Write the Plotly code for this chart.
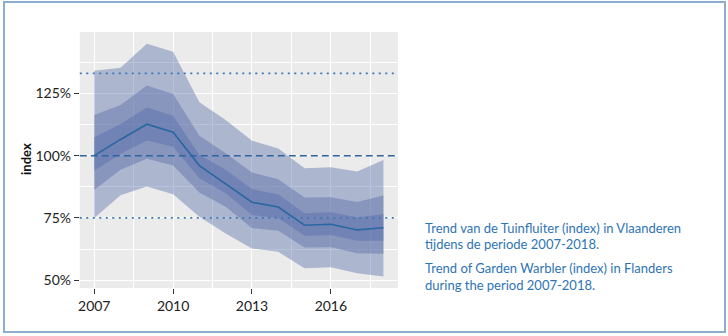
import plotly.graph_objects as go

years = [2007, 2008, 2009, 2010, 2011, 2012, 2013, 2014, 2015, 2016, 2017, 2018]
index_mid = [100.0, 106.5, 112.6, 109.4, 96.0, 88.5, 81.3, 79.4, 72.1, 72.5, 70.2, 71.1]
outer_hi = [134.1, 135.3, 144.9, 141.7, 121.4, 114.3, 106.0, 102.9, 94.9, 95.3, 93.6, 98.3]
outer_lo = [75.0, 84.1, 87.6, 84.5, 75.5, 68.8, 62.7, 61.4, 54.8, 55.2, 52.8, 51.5]
mid_hi = [116.3, 120.3, 128.1, 124.7, 108.0, 101.0, 93.2, 90.5, 83.2, 83.3, 81.4, 84.0]
mid_lo = [86.2, 94.3, 98.8, 96.0, 85.2, 79.5, 70.9, 69.9, 63.1, 63.2, 60.8, 60.6]
inner_hi = [107.4, 112.7, 119.3, 116.0, 100.3, 94.3, 86.6, 84.4, 76.9, 77.3, 75.3, 76.6]
inner_lo = [93.9, 100.7, 106.1, 103.6, 90.9, 84.9, 76.2, 74.9, 67.9, 68.2, 65.9, 65.9]

ref_lines_dotted = [133.0, 75.0]
ref_line_dashed = 100.0

ytick_vals = [50, 75, 100, 125]
ytick_text = ["50%", "75%", "100%", "125%"]
xtick_vals = [2007, 2010, 2013, 2016]

caption_lines = [
    "Trend van de Tuinfluiter (index) in Vlaanderen",
    "tijdens de periode 2007-2018.",
    "Trend of Garden Warbler (index) in Flanders",
    "during the period 2007-2018.",
]

W, H = 728, 336
fig = go.Figure()

band_color = "rgba(80,102,165,0.40)"
for hi, lo in [(outer_hi, outer_lo), (mid_hi, mid_lo), (inner_hi, inner_lo)]:
    fig.add_trace(go.Scatter(
        x=years + years[::-1], y=hi + lo[::-1],
        fill="toself", fillcolor=band_color, mode="lines",
        line=dict(width=0), hoverinfo="skip", showlegend=False))

fig.add_trace(go.Scatter(x=years, y=index_mid, mode="lines",
                         line=dict(color="#2a67a2", width=1.6), showlegend=False))

for v in ref_lines_dotted:
    fig.add_hline(y=v, line=dict(color="#3f78b5", width=1.8, dash="2px,4.5px"), layer="above")
fig.add_hline(y=ref_line_dashed, line=dict(color="#2f65a0", width=1.5, dash="7px,4px"), layer="above")

px0, px1 = 78, 397
py0, py1 = 32, 288
fig.update_layout(
    width=W, height=H, margin=dict(l=0, r=0, t=0, b=0),
    paper_bgcolor="white", plot_bgcolor="#ebebeb",
    font=dict(family="Lato, Open Sans, sans-serif", size=13, color="#222222"),
    xaxis=dict(domain=[px0 / W, px1 / W], range=[2006.45, 2018.55],
               tickvals=xtick_vals, ticks="outside", ticklen=5, tickwidth=1.1,
               tickcolor="#333333", gridcolor="white", gridwidth=1.2,
               minor=dict(dtick=1.5, tick0=2007, showgrid=True, gridcolor="white", gridwidth=0.6),
               zeroline=False, showline=False, tickfont=dict(size=14, color="#222222")),
    yaxis=dict(domain=[(H - py1) / H, (H - py0) / H], range=[46.9, 149.6],
               tickvals=ytick_vals, ticktext=ytick_text, ticks="outside", ticklen=5,
               tickwidth=1.1, tickcolor="#333333", gridcolor="white", gridwidth=1.2,
               minor=dict(dtick=12.5, tick0=50, showgrid=True, gridcolor="white", gridwidth=0.6),
               zeroline=False, showline=False, tickfont=dict(size=14, color="#222222")),
)

fig.add_annotation(text="<b>index</b>", xref="paper", yref="paper", x=24 / W, y=1 - 159 / H,
                   textangle=-90, showarrow=False, font=dict(size=13, color="#111111"),
                   xanchor="center", yanchor="middle")

line_y = [228, 244, 268, 285]
for t, yy in zip(caption_lines, line_y):
    fig.add_annotation(text=t, xref="paper", yref="paper", x=422 / W, y=1 - yy / H,
                       xanchor="left", yanchor="middle", showarrow=False,
                       font=dict(size=13, color="#2e74b5"))

fig.add_shape(type="rect", xref="paper", yref="paper",
              x0=2 / W, x1=725 / W, y0=1 - 332 / H, y1=1 - 2 / H,
              line=dict(color="#8cacd0", width=2), fillcolor="rgba(0,0,0,0)")

fig.write_html("out.html")
